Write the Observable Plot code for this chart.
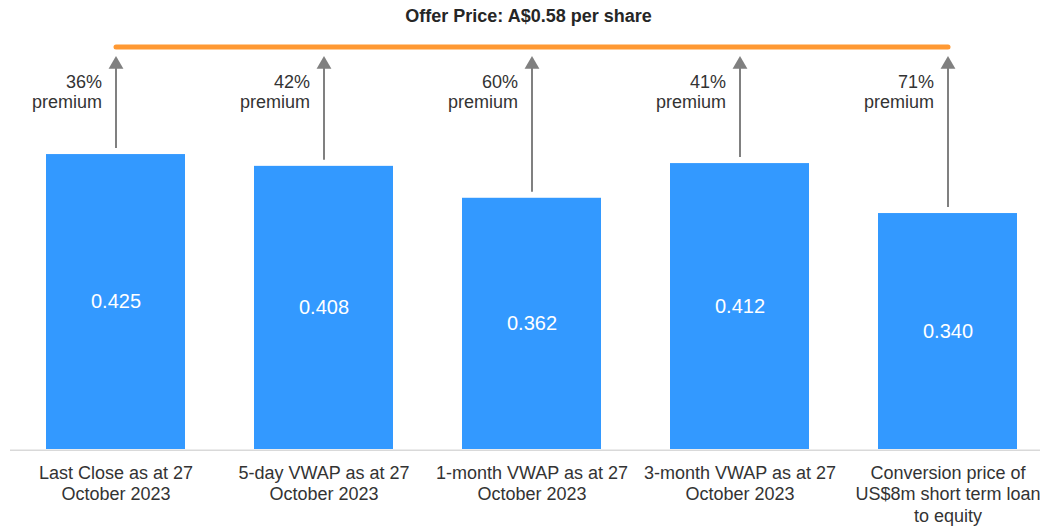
<!DOCTYPE html>
<html>
<head>
<meta charset="utf-8">
<script src="https://cdn.jsdelivr.net/npm/d3@7"></script>
<script src="https://cdn.jsdelivr.net/npm/@observablehq/plot@0.6"></script>
<style>
  body { margin: 0; background: #ffffff; font-family: "Liberation Sans", Arial, sans-serif; }
  #title {
    width: 1046px; height: 34px; box-sizing: border-box;
    padding-top: 3px; padding-left: 11px;
    line-height: 26px; text-align: center;
    font-weight: bold; font-size: 18px; color: #262626;
  }
  #chart svg { display: block; }
</style>
</head>
<body>
<div id="title"></div>
<div id="chart"></div>
<script>
const titleText = "Offer Price: A$0.58 per share";
const categories = ["Last Close", "5-day VWAP", "1-month VWAP", "3-month VWAP", "Conversion price"];
const tickLabels = [
  "Last Close as at 27\nOctober 2023",
  "5-day VWAP as at 27\nOctober 2023",
  "1-month VWAP as at 27\nOctober 2023",
  "3-month VWAP as at 27\nOctober 2023",
  "Conversion price of\nUS$8m short term loan\nto equity"
];
const prices = [0.425, 0.408, 0.362, 0.412, 0.340];
const premiums = ["36%", "42%", "60%", "41%", "71%"];
const offerPrice = 0.58;

document.getElementById("title").textContent = titleText;

const table = categories.map((c, i) => ({cat: c, price: prices[i], premium: premiums[i]}));
const offerLine = [
  {cat: categories[0], y: offerPrice},
  {cat: categories[categories.length - 1], y: offerPrice}
];

const gray = "#808080";
const textColor = "#333333";

const chart = Plot.plot({
  width: 1046,
  height: 492,
  marginTop: 0,
  marginBottom: 77,
  marginLeft: 45,
  marginRight: 29,
  style: {fontFamily: "'Liberation Sans', Arial, sans-serif", background: "#ffffff"},
  x: {type: "band", domain: categories, paddingInner: 0.333, paddingOuter: 0, axis: null},
  y: {domain: [0, 0.598], axis: null},
  marks: [
    Plot.ruleY([0], {stroke: "#d9d9d9", strokeWidth: 1.5, insetLeft: -35, insetRight: -23, dy: 0.75}),
    Plot.barY(table, {x: "cat", y: "price", fill: "#3399ff"}),
    Plot.text(table, {x: "cat", y: d => d.price / 2, text: d => d.price.toFixed(3), fill: "#ffffff", fontSize: 20}),
    Plot.ruleX(table, {x: "cat", y1: () => offerPrice, y2: "price", stroke: gray, strokeWidth: 2, insetTop: 16, insetBottom: 6}),
    Plot.dot(table, {x: "cat", y: () => offerPrice, symbol: "triangle", r: 5.5, fill: gray, stroke: "none", dy: 17.5}),
    Plot.line(offerLine, {x: "cat", y: "y", stroke: "#ff9933", strokeWidth: 5, strokeLinecap: "round"}),
    Plot.text(table, {x: "cat", y: () => offerPrice, text: d => d.premium + "\npremium", textAnchor: "end", lineAnchor: "top", dx: -14, dy: 27, fontSize: 18, lineHeight: 1.11, fill: textColor}),
    Plot.axisX({tickSize: 0, tickPadding: 14, fontSize: 18, lineHeight: 1.2, color: textColor, label: null,
      tickFormat: d => tickLabels[categories.indexOf(d)]})
  ]
});
document.getElementById("chart").appendChild(chart);
</script>
</body>
</html>
